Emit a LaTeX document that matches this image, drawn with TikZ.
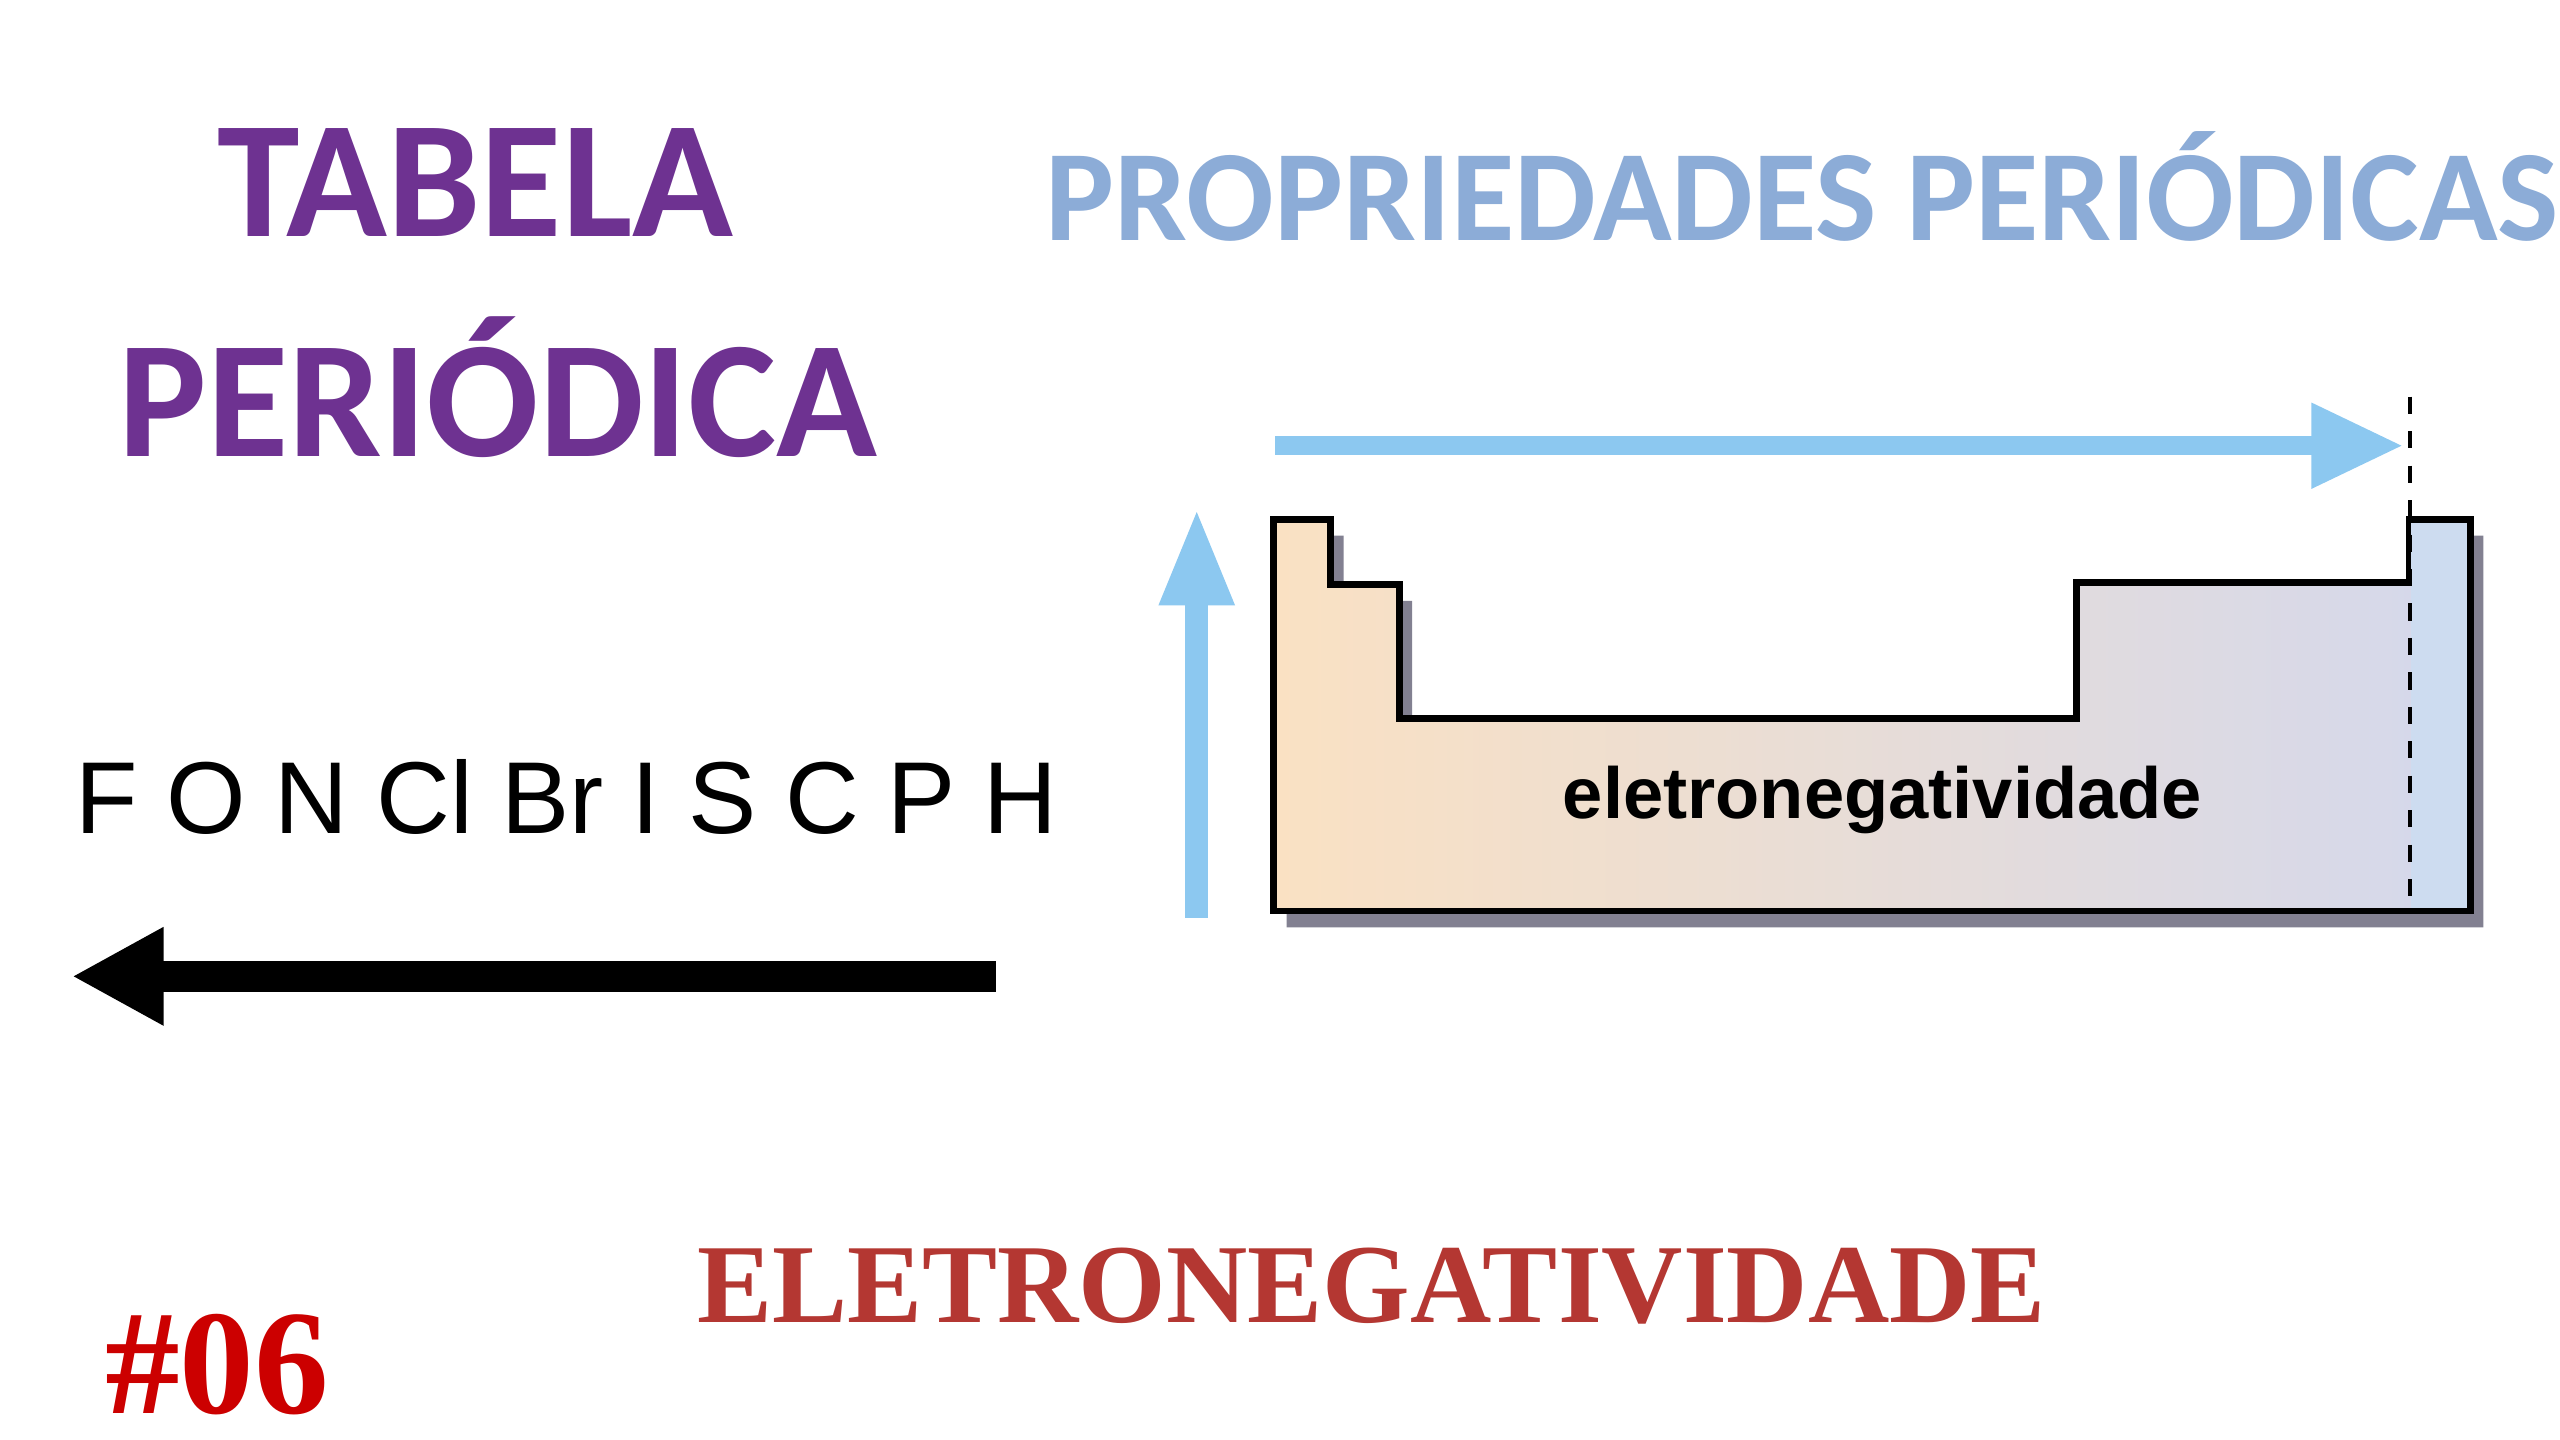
\documentclass[tikz,border=0pt]{standalone}
\usepackage{fontspec}
\setmainfont{Liberation Serif}
\newfontfamily\carl{Carlito}
\newfontfamily\lsans{Liberation Sans}
\usetikzlibrary{arrows.meta}
\definecolor{purp}{RGB}{110,50,145}
\definecolor{pblue}{RGB}{140,172,215}
\definecolor{abl}{RGB}{140,200,240}
\definecolor{dred}{RGB}{180,55,50}
\definecolor{peach}{RGB}{250,225,195}
\definecolor{lav}{RGB}{212,216,236}
\definecolor{colb}{RGB}{205,220,240}
\definecolor{shad}{RGB}{130,128,145}
\begin{document}
\begin{tikzpicture}[x=0.01cm,y=-0.01cm,
  txt/.style={inner sep=0,anchor=center}]
\useasboundingbox[fill=white] (0,0) rectangle (1568,882);
\node[txt,text=purp] (t1) at (291,112) {\carl\bfseries\fontsize{29}{30}\selectfont TABELA};
\node[txt,text=purp] (t2) at (305,237) {\carl\bfseries\fontsize{29}{30}\selectfont PERIÓDICA};
\node[txt,text=pblue] (pp) at (1104,114) {\carl\bfseries\fontsize{22.6}{24}\selectfont PROPRIEDADES PERIÓDICAS};
\node[txt] (el) at (347,488) {\lsans\fontsize{17.8}{20}\selectfont F O N Cl Br I S C P H};
\node[txt,text=dred] (en) at (840,788) {\bfseries\fontsize{19.6}{22}\selectfont ELETRONEGATIVIDADE};
\node[txt,text=red!80!black] (n6) at (133,836) {\bfseries\fontsize{26}{28}\selectfont \#06};
% table shadow
\fill[shad] (788,328) -- (823,328) -- (823,368) -- (865,368) -- (865,450) -- (1280,450) -- (1280,367) -- (1484,367) -- (1484,328) -- (1521,328) -- (1521,568) -- (788,568) -- cycle;
\shade[left color=peach,right color=lav,draw=black,line width=1.2pt] (780,318) -- (815,318) -- (815,358) -- (857,358) -- (857,440) -- (1272,440) -- (1272,357) -- (1476,357) -- (1476,318) -- (1513,318) -- (1513,558) -- (780,558) -- cycle;
\fill[colb] (1477,319.5) rectangle (1511.5,556.5);
\draw[line width=1.2pt] (1476,318) -- (1513,318) -- (1513,558) -- (1476,558);
\coordinate (d1) at (1476,243);
\coordinate (d2) at (1476,558);
\draw[dashed,line width=0.8pt] (d1) -- (d2);
\node[txt] (eg) at (1153,490) {\lsans\bfseries\fontsize{12.6}{15}\selectfont eletronegatividade};
% arrows
\coordinate (h1) at (781,273); \coordinate (h2) at (1472,273);
\draw[abl,line width=3.4pt,-{Triangle[length=16pt,width=14pt]}] (h1) -- (h2);
\coordinate (v1) at (733,562); \coordinate (v2) at (733,311);
\draw[abl,line width=4pt,-{Triangle[length=17pt,width=12pt]}] (v1) -- (v2);
\coordinate (b1) at (610,598); \coordinate (b2) at (44,598);
\draw[black,line width=5.5pt,-{Triangle[length=16pt,width=16pt]}] (b1) -- (b2);
\end{tikzpicture}
\end{document}
